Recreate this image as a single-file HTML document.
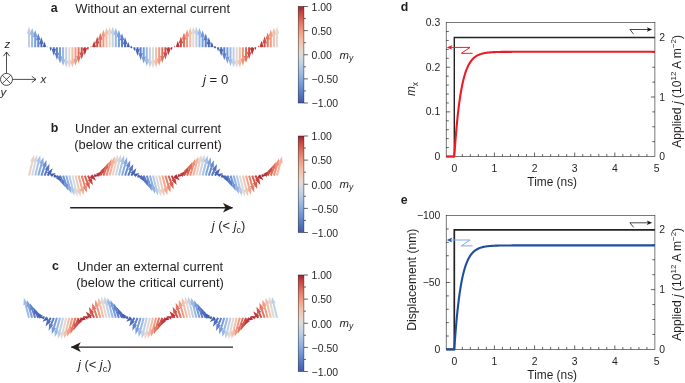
<!DOCTYPE html>
<html lang="en"><head><meta charset="utf-8"><title>Figure</title>
<style>html,body{margin:0;padding:0;background:#fff}svg{display:block;will-change:transform}svg text{font-family:"Liberation Sans",sans-serif}</style>
</head><body>
<svg width="685" height="383" viewBox="0 0 685 383" fill="#231f20">
<defs><linearGradient id="cw" x1="0" y1="0" x2="0" y2="1"><stop offset="0.0000" stop-color="#af1a30"/><stop offset="0.0312" stop-color="#ba3237"/><stop offset="0.0625" stop-color="#c54440"/><stop offset="0.0938" stop-color="#d05349"/><stop offset="0.1250" stop-color="#d96153"/><stop offset="0.1562" stop-color="#e16f5d"/><stop offset="0.1875" stop-color="#e87d68"/><stop offset="0.2188" stop-color="#ed8a73"/><stop offset="0.2500" stop-color="#f1977f"/><stop offset="0.2812" stop-color="#f4a38a"/><stop offset="0.3125" stop-color="#f5ae96"/><stop offset="0.3438" stop-color="#f5b9a2"/><stop offset="0.3750" stop-color="#f3c2ae"/><stop offset="0.4062" stop-color="#f0caba"/><stop offset="0.4375" stop-color="#ebd2c6"/><stop offset="0.4688" stop-color="#e5d8d1"/><stop offset="0.5000" stop-color="#dddcdc"/><stop offset="0.5312" stop-color="#d3d9e0"/><stop offset="0.5625" stop-color="#c9d5e3"/><stop offset="0.5938" stop-color="#bfd0e5"/><stop offset="0.6250" stop-color="#b4cae6"/><stop offset="0.6562" stop-color="#a9c3e6"/><stop offset="0.6875" stop-color="#9dbbe5"/><stop offset="0.7188" stop-color="#92b3e4"/><stop offset="0.7500" stop-color="#87aae1"/><stop offset="0.7812" stop-color="#7da1dd"/><stop offset="0.8125" stop-color="#7297d8"/><stop offset="0.8438" stop-color="#688dd3"/><stop offset="0.8750" stop-color="#5f82cc"/><stop offset="0.9062" stop-color="#5678c5"/><stop offset="0.9375" stop-color="#4e6ebc"/><stop offset="0.9688" stop-color="#4663b4"/><stop offset="1.0000" stop-color="#3f59aa"/></linearGradient><marker id="ah" viewBox="0 0 10 10" refX="9.5" refY="5" markerWidth="10" markerHeight="10" markerUnits="userSpaceOnUse" orient="auto-start-reverse"><path d="M0,0.2 L10,5 L0,9.8 L2.6,5 Z" fill="#231f20"/></marker></defs>
<rect width="685" height="383" fill="#fff"/>
<text x="50.8" y="11.9" font-size="12.4" text-anchor="start" font-weight="bold" font-style="normal" >a</text>
<text x="75.3" y="12.5" font-size="12.9" text-anchor="start" font-weight="normal" font-style="normal" >Without an external current</text>
<polygon points="30.00,47.30 30.00,33.27 31.40,33.97 29.00,26.57 26.60,33.97 28.00,33.27 28.00,47.30" fill="#c1d1e5"/>
<polygon points="33.10,47.30 33.10,34.45 34.50,35.15 32.10,27.75 29.70,35.15 31.10,34.45 31.10,47.30" fill="#9bb9e5"/>
<polygon points="36.20,47.30 36.20,36.68 37.60,37.38 35.20,29.98 32.80,37.38 34.20,36.68 34.20,47.30" fill="#779cdb"/>
<polygon points="39.30,47.30 39.30,39.84 40.70,40.54 38.30,33.14 35.90,40.54 37.30,39.84 37.30,47.30" fill="#5c80ca"/>
<polygon points="42.40,47.30 42.40,43.78 43.80,44.48 41.40,37.08 39.00,44.48 40.40,43.78 40.40,47.30" fill="#4c6bba"/>
<polygon points="45.28,47.30 45.28,46.76 46.36,47.30 44.50,41.56 42.64,47.30 43.72,46.76 43.72,47.30" fill="#415dad"/>
<polygon points="47.73,47.30 47.73,47.21 47.91,47.30 47.60,46.36 47.29,47.30 47.47,47.21 47.47,47.30" fill="#3f59aa"/>
<polygon points="50.17,47.30 50.17,47.67 49.43,47.30 50.70,51.20 51.97,47.30 51.23,47.67 51.23,47.30" fill="#415dae"/>
<polygon points="52.80,47.30 52.80,49.14 51.40,48.44 53.80,55.84 56.20,48.44 54.80,49.14 54.80,47.30" fill="#4b6ab9"/>
<polygon points="55.90,47.30 55.90,53.31 54.50,52.61 56.90,60.01 59.30,52.61 57.90,53.31 57.90,47.30" fill="#5b7ec9"/>
<polygon points="59.00,47.30 59.00,56.80 57.60,56.10 60.00,63.50 62.40,56.10 61.00,56.80 61.00,47.30" fill="#7599da"/>
<polygon points="62.10,47.30 62.10,59.41 60.70,58.71 63.10,66.11 65.50,58.71 64.10,59.41 64.10,47.30" fill="#98b7e5"/>
<polygon points="65.20,47.30 65.20,61.01 63.80,60.31 66.20,67.71 68.60,60.31 67.20,61.01 67.20,47.30" fill="#c0d0e4"/>
<polygon points="68.30,47.30 68.30,61.50 66.90,60.80 69.30,68.20 71.70,60.80 70.30,61.50 70.30,47.30" fill="#e3d9d4"/>
<polygon points="71.40,47.30 71.40,60.86 70.00,60.16 72.40,67.56 74.80,60.16 73.40,60.86 73.40,47.30" fill="#f4bda8"/>
<polygon points="74.50,47.30 74.50,59.13 73.10,58.43 75.50,65.83 77.90,58.43 76.50,59.13 76.50,47.30" fill="#f29880"/>
<polygon points="77.60,47.30 77.60,56.40 76.20,55.70 78.60,63.10 81.00,55.70 79.60,56.40 79.60,47.30" fill="#e2715f"/>
<polygon points="80.70,47.30 80.70,52.81 79.30,52.11 81.70,59.51 84.10,52.11 82.70,52.81 82.70,47.30" fill="#cd4f47"/>
<polygon points="83.80,47.30 83.80,48.56 82.40,47.86 84.80,55.26 87.20,47.86 85.80,48.56 85.80,47.30" fill="#ba3237"/>
<polygon points="87.46,47.30 87.46,47.61 86.83,47.30 87.90,50.58 88.97,47.30 88.34,47.61 88.34,47.30" fill="#af1930"/>
<polygon points="91.21,47.30 91.21,47.15 91.51,47.30 91.00,45.73 90.49,47.30 90.79,47.15 90.79,47.30" fill="#af1930"/>
<polygon points="94.96,47.30 94.96,46.70 96.16,47.30 94.10,40.96 92.04,47.30 93.24,46.70 93.24,47.30" fill="#ba3337"/>
<polygon points="98.20,47.30 98.20,43.23 99.60,43.93 97.20,36.53 94.80,43.93 96.20,43.23 96.20,47.30" fill="#cc4d46"/>
<polygon points="101.30,47.30 101.30,39.39 102.70,40.09 100.30,32.69 97.90,40.09 99.30,39.39 99.30,47.30" fill="#e16f5d"/>
<polygon points="104.40,47.30 104.40,36.33 105.80,37.03 103.40,29.63 101.00,37.03 102.40,36.33 102.40,47.30" fill="#f1977f"/>
<polygon points="107.50,47.30 107.50,34.23 108.90,34.93 106.50,27.53 104.10,34.93 105.50,34.23 105.50,47.30" fill="#f4bda8"/>
<polygon points="110.60,47.30 110.60,33.20 112.00,33.90 109.60,26.50 107.20,33.90 108.60,33.20 108.60,47.30" fill="#e4d8d3"/>
<polygon points="113.70,47.30 113.70,33.29 115.10,33.99 112.70,26.59 110.30,33.99 111.70,33.29 111.70,47.30" fill="#c0d1e5"/>
<polygon points="116.80,47.30 116.80,34.50 118.20,35.20 115.80,27.80 113.40,35.20 114.80,34.50 114.80,47.30" fill="#99b8e5"/>
<polygon points="119.90,47.30 119.90,36.77 121.30,37.47 118.90,30.07 116.50,37.47 117.90,36.77 117.90,47.30" fill="#769ada"/>
<polygon points="123.00,47.30 123.00,39.96 124.40,40.66 122.00,33.26 119.60,40.66 121.00,39.96 121.00,47.30" fill="#5d80ca"/>
<polygon points="126.10,47.30 126.10,43.91 127.50,44.61 125.10,37.21 122.70,44.61 124.10,43.91 124.10,47.30" fill="#4a69b9"/>
<polygon points="128.95,47.30 128.95,46.77 130.01,47.30 128.20,41.71 126.39,47.30 127.45,46.77 127.45,47.30" fill="#415dad"/>
<polygon points="132.40,47.30 131.85,48.25 130.75,48.25 130.20,47.30 130.75,46.35 131.85,46.35" fill="#3f59aa"/>
<polygon points="133.85,47.30 133.85,47.68 133.08,47.30 134.40,51.36 135.72,47.30 134.95,47.68 134.95,47.30" fill="#415dad"/>
<polygon points="136.50,47.30 136.50,49.28 135.10,48.58 137.50,55.98 139.90,48.58 138.50,49.28 138.50,47.30" fill="#4a69b9"/>
<polygon points="139.60,47.30 139.60,53.44 138.20,52.74 140.60,60.14 143.00,52.74 141.60,53.44 141.60,47.30" fill="#5d80ca"/>
<polygon points="142.70,47.30 142.70,56.90 141.30,56.20 143.70,63.60 146.10,56.20 144.70,56.90 144.70,47.30" fill="#769ada"/>
<polygon points="145.80,47.30 145.80,59.48 144.40,58.78 146.80,66.18 149.20,58.78 147.80,59.48 147.80,47.30" fill="#99b8e5"/>
<polygon points="148.90,47.30 148.90,61.04 147.50,60.34 149.90,67.74 152.30,60.34 150.90,61.04 150.90,47.30" fill="#c0d1e5"/>
<polygon points="152.00,47.30 152.00,61.49 150.60,60.79 153.00,68.19 155.40,60.79 154.00,61.49 154.00,47.30" fill="#e4d8d3"/>
<polygon points="155.10,47.30 155.10,60.82 153.70,60.12 156.10,67.52 158.50,60.12 157.10,60.82 157.10,47.30" fill="#f4bda8"/>
<polygon points="158.20,47.30 158.20,59.06 156.80,58.36 159.20,65.76 161.60,58.36 160.20,59.06 160.20,47.30" fill="#f1977f"/>
<polygon points="161.30,47.30 161.30,56.29 159.90,55.59 162.30,62.99 164.70,55.59 163.30,56.29 163.30,47.30" fill="#e16f5d"/>
<polygon points="164.40,47.30 164.40,52.68 163.00,51.98 165.40,59.38 167.80,51.98 166.40,52.68 166.40,47.30" fill="#cc4d46"/>
<polygon points="167.50,47.30 167.50,48.42 166.10,47.72 168.50,55.12 170.90,47.72 169.50,48.42 169.50,47.30" fill="#ba3337"/>
<polygon points="171.18,47.30 171.18,47.60 170.58,47.30 171.60,50.43 172.62,47.30 172.02,47.60 172.02,47.30" fill="#af1930"/>
<polygon points="174.93,47.30 174.93,47.14 175.26,47.30 174.70,45.57 174.14,47.30 174.47,47.14 174.47,47.30" fill="#af1930"/>
<polygon points="178.68,47.30 178.68,46.69 179.90,47.30 177.80,40.81 175.70,47.30 176.92,46.69 176.92,47.30" fill="#ba3237"/>
<polygon points="181.90,47.30 181.90,43.10 183.30,43.80 180.90,36.40 178.50,43.80 179.90,43.10 179.90,47.30" fill="#cd4f47"/>
<polygon points="185.00,47.30 185.00,39.28 186.40,39.98 184.00,32.58 181.60,39.98 183.00,39.28 183.00,47.30" fill="#e2715f"/>
<polygon points="188.10,47.30 188.10,36.25 189.50,36.95 187.10,29.55 184.70,36.95 186.10,36.25 186.10,47.30" fill="#f29880"/>
<polygon points="191.20,47.30 191.20,34.18 192.60,34.88 190.20,27.48 187.80,34.88 189.20,34.18 189.20,47.30" fill="#f4bda8"/>
<polygon points="194.30,47.30 194.30,33.18 195.70,33.88 193.30,26.48 190.90,33.88 192.30,33.18 192.30,47.30" fill="#e3d9d4"/>
<polygon points="197.40,47.30 197.40,33.31 198.80,34.01 196.40,26.61 194.00,34.01 195.40,33.31 195.40,47.30" fill="#c0d0e4"/>
<polygon points="200.50,47.30 200.50,34.56 201.90,35.26 199.50,27.86 197.10,35.26 198.50,34.56 198.50,47.30" fill="#98b7e5"/>
<polygon points="203.60,47.30 203.60,36.85 205.00,37.55 202.60,30.15 200.20,37.55 201.60,36.85 201.60,47.30" fill="#7599da"/>
<polygon points="206.70,47.30 206.70,40.08 208.10,40.78 205.70,33.38 203.30,40.78 204.70,40.08 204.70,47.30" fill="#5b7ec9"/>
<polygon points="209.80,47.30 209.80,44.05 211.20,44.75 208.80,37.35 206.40,44.75 207.80,44.05 207.80,47.30" fill="#4b6ab9"/>
<polygon points="212.63,47.30 212.63,46.79 213.66,47.30 211.90,41.87 210.14,47.30 211.17,46.79 211.17,47.30" fill="#415dae"/>
<polygon points="216.10,47.30 215.55,48.25 214.45,48.25 213.90,47.30 214.45,46.35 215.55,46.35" fill="#3f59aa"/>
<polygon points="217.53,47.30 217.53,47.70 216.73,47.30 218.10,51.51 219.47,47.30 218.67,47.70 218.67,47.30" fill="#415dad"/>
<polygon points="220.20,47.30 220.20,49.42 218.80,48.72 221.20,56.12 223.60,48.72 222.20,49.42 222.20,47.30" fill="#4c6bba"/>
<polygon points="223.30,47.30 223.30,53.56 221.90,52.86 224.30,60.26 226.70,52.86 225.30,53.56 225.30,47.30" fill="#5c80ca"/>
<polygon points="226.40,47.30 226.40,57.00 225.00,56.30 227.40,63.70 229.80,56.30 228.40,57.00 228.40,47.30" fill="#779cdb"/>
<polygon points="229.50,47.30 229.50,59.55 228.10,58.85 230.50,66.25 232.90,58.85 231.50,59.55 231.50,47.30" fill="#9bb9e5"/>
<polygon points="232.60,47.30 232.60,61.07 231.20,60.37 233.60,67.77 236.00,60.37 234.60,61.07 234.60,47.30" fill="#c1d1e5"/>
<polygon points="235.70,47.30 235.70,61.49 234.30,60.79 236.70,68.19 239.10,60.79 237.70,61.49 237.70,47.30" fill="#e5d8d1"/>
<polygon points="238.80,47.30 238.80,60.78 237.40,60.08 239.80,67.48 242.20,60.08 240.80,60.78 240.80,47.30" fill="#f5bca7"/>
<polygon points="241.90,47.30 241.90,58.98 240.50,58.28 242.90,65.68 245.30,58.28 243.90,58.98 243.90,47.30" fill="#f1957d"/>
<polygon points="245.00,47.30 245.00,56.19 243.60,55.49 246.00,62.89 248.40,55.49 247.00,56.19 247.00,47.30" fill="#e16f5d"/>
<polygon points="248.10,47.30 248.10,52.55 246.70,51.85 249.10,59.25 251.50,51.85 250.10,52.55 250.10,47.30" fill="#cc4e46"/>
<polygon points="251.20,47.30 251.20,48.27 249.80,47.57 252.20,54.97 254.60,47.57 253.20,48.27 253.20,47.30" fill="#ba3337"/>
<polygon points="254.90,47.30 254.90,47.58 254.34,47.30 255.30,50.27 256.26,47.30 255.70,47.58 255.70,47.30" fill="#af1930"/>
<polygon points="258.65,47.30 258.65,47.12 259.01,47.30 258.40,45.42 257.79,47.30 258.15,47.12 258.15,47.30" fill="#b01d31"/>
<polygon points="262.40,47.30 262.40,46.67 263.65,47.30 261.50,40.66 259.35,47.30 260.60,46.67 260.60,47.30" fill="#bb3638"/>
<polygon points="265.60,47.30 265.60,42.97 267.00,43.67 264.60,36.27 262.20,43.67 263.60,42.97 263.60,47.30" fill="#cd4f47"/>
<polygon points="268.70,47.30 268.70,39.17 270.10,39.87 267.70,32.47 265.30,39.87 266.70,39.17 266.70,47.30" fill="#e37360"/>
<polygon points="271.80,47.30 271.80,36.17 273.20,36.87 270.80,29.47 268.40,36.87 269.80,36.17 269.80,47.30" fill="#f29a82"/>
<polygon points="274.90,47.30 274.90,34.13 276.30,34.83 273.90,27.43 271.50,34.83 272.90,34.13 272.90,47.30" fill="#f4bfaa"/>
<polygon points="278.00,47.30 278.00,33.17 279.40,33.87 277.00,26.47 274.60,33.87 276.00,33.17 276.00,47.30" fill="#e2d9d5"/>
<text x="203" y="84.2" font-size="13.2"><tspan font-style="italic">j</tspan> = 0</text>
<rect x="298.2" y="6.5" width="5.699999999999989" height="96.5" fill="url(#cw)" stroke="#231f20" stroke-width="0.5"/>
<line x1="303.9" y1="6.50" x2="307.9" y2="6.50" stroke="#231f20" stroke-width="0.7"/>
<line x1="303.9" y1="18.56" x2="305.9" y2="18.56" stroke="#231f20" stroke-width="0.7"/>
<line x1="303.9" y1="30.62" x2="307.9" y2="30.62" stroke="#231f20" stroke-width="0.7"/>
<line x1="303.9" y1="42.69" x2="305.9" y2="42.69" stroke="#231f20" stroke-width="0.7"/>
<line x1="303.9" y1="54.75" x2="307.9" y2="54.75" stroke="#231f20" stroke-width="0.7"/>
<line x1="303.9" y1="66.81" x2="305.9" y2="66.81" stroke="#231f20" stroke-width="0.7"/>
<line x1="303.9" y1="78.88" x2="307.9" y2="78.88" stroke="#231f20" stroke-width="0.7"/>
<line x1="303.9" y1="90.94" x2="305.9" y2="90.94" stroke="#231f20" stroke-width="0.7"/>
<line x1="303.9" y1="103.00" x2="307.9" y2="103.00" stroke="#231f20" stroke-width="0.7"/>
<text x="311.6" y="10.80" font-size="10.45" text-anchor="start" font-weight="normal" font-style="normal" >1.00</text>
<text x="311.6" y="34.92" font-size="10.45" text-anchor="start" font-weight="normal" font-style="normal" >0.50</text>
<text x="311.6" y="59.05" font-size="10.45" text-anchor="start" font-weight="normal" font-style="normal" >0.00</text>
<text x="311.6" y="83.17" font-size="10.45" text-anchor="start" font-weight="normal" font-style="normal" >−0.50</text>
<text x="311.6" y="107.30" font-size="10.45" text-anchor="start" font-weight="normal" font-style="normal" >−1.00</text>
<text x="339.6" y="58.65" font-size="11.4" font-style="italic">m<tspan font-size="8.4" dy="2.0">y</tspan></text>
<g stroke="#231f20" stroke-width="0.8" fill="none"><circle cx="6.5" cy="79.4" r="6"/><path d="M2.3,75.2 L10.7,83.6 M10.7,75.2 L2.3,83.6"/><path d="M6.5,73.4 L6.5,52 M3.4,56.2 L6.5,52 L9.6,56.2"/><path d="M12.5,79.4 L36,79.4 M31.8,76.3 L36,79.4 L31.8,82.5"/></g>
<text x="4.5" y="47.5" font-size="11.5" text-anchor="start" font-weight="normal" font-style="italic" >z</text>
<text x="40.5" y="82.5" font-size="11.5" text-anchor="start" font-weight="normal" font-style="italic" >x</text>
<text x="0.5" y="96" font-size="11.5" text-anchor="start" font-weight="normal" font-style="italic" >y</text>
<text x="50.8" y="131.9" font-size="12.4" text-anchor="start" font-weight="bold" font-style="normal" >b</text>
<text x="75" y="132.5" font-size="12.9" text-anchor="start" font-weight="normal" font-style="normal" >Under an external current</text>
<text x="74.2" y="149.2" font-size="12.9" text-anchor="start" font-weight="normal" font-style="normal" >(below the critical current)</text>
<polygon points="29.97,175.84 33.45,161.62 34.65,162.63 34.08,154.87 29.99,161.49 31.51,161.14 28.03,175.36" fill="#edd0c3"/>
<polygon points="33.07,175.83 36.58,161.27 37.78,162.28 37.18,154.52 33.11,161.16 34.64,160.80 31.13,175.37" fill="#d0d8e1"/>
<polygon points="36.17,175.84 39.62,162.06 40.81,163.07 40.28,155.31 36.15,161.91 37.68,161.57 34.23,175.36" fill="#aac4e6"/>
<polygon points="39.26,175.87 42.56,163.92 43.72,164.97 43.38,157.20 39.10,163.69 40.63,163.39 37.34,175.33" fill="#86a9e0"/>
<polygon points="42.35,175.91 45.35,166.76 46.46,167.86 46.48,160.08 41.90,166.37 43.44,166.14 40.45,175.29" fill="#688dd3"/>
<polygon points="45.42,176.00 47.85,170.35 48.86,171.54 49.58,163.80 44.45,169.65 46.01,169.56 43.58,175.20" fill="#5475c2"/>
<polygon points="48.43,176.16 49.73,174.25 50.49,175.62 52.68,168.15 46.53,172.91 48.08,173.13 46.77,175.04" fill="#4764b4"/>
<polygon points="51.06,176.29 51.54,176.03 51.57,177.25 55.78,172.91 49.83,173.95 50.82,174.66 50.34,174.91" fill="#425eaf"/>
<polygon points="53.50,176.29 53.98,176.50 53.08,177.25 58.88,177.82 54.52,173.95 54.58,175.12 54.10,174.91" fill="#425eaf"/>
<polygon points="56.09,176.19 57.23,177.76 55.69,178.02 61.98,182.60 59.58,175.20 58.85,176.59 57.71,175.01" fill="#4a68b8"/>
<polygon points="59.09,176.01 61.44,181.29 59.88,181.22 65.08,187.01 64.26,179.27 63.27,180.48 60.91,175.19" fill="#5779c5"/>
<polygon points="62.15,175.92 65.11,184.76 63.56,184.54 68.18,190.80 68.11,183.02 67.00,184.12 64.05,175.28" fill="#6e93d6"/>
<polygon points="65.24,175.87 68.51,187.58 66.97,187.28 71.28,193.76 71.60,185.99 70.44,187.04 67.16,175.33" fill="#8daee2"/>
<polygon points="68.33,175.84 71.77,189.50 70.24,189.16 74.38,195.75 74.90,187.99 73.71,189.01 70.27,175.36" fill="#b2c9e6"/>
<polygon points="71.43,175.83 74.93,190.37 73.41,190.02 77.48,196.65 78.08,188.89 76.88,189.90 73.37,175.37" fill="#d8dbde"/>
<polygon points="74.53,175.84 78.02,190.14 76.49,189.79 80.58,196.41 81.16,188.65 79.96,189.66 76.47,175.36" fill="#f1c9b9"/>
<polygon points="77.63,175.85 81.02,188.82 79.49,188.49 83.68,195.05 84.13,187.28 82.95,188.31 79.57,175.35" fill="#f5a990"/>
<polygon points="80.74,175.89 83.91,186.50 82.36,186.23 86.78,192.63 86.96,184.85 85.82,185.92 82.66,175.31" fill="#ea826c"/>
<polygon points="83.86,175.95 86.61,183.36 85.05,183.19 89.88,189.30 89.56,181.52 88.49,182.67 85.74,175.25" fill="#d85f52"/>
<polygon points="87.02,176.07 88.97,179.76 87.40,179.80 92.98,185.22 91.65,177.56 90.73,178.83 88.78,175.13" fill="#c54440"/>
<polygon points="90.32,176.29 90.80,176.76 89.37,177.25 96.08,180.63 92.63,173.95 92.16,175.39 91.68,174.91" fill="#b82f36"/>
<polygon points="94.08,176.29 94.56,176.30 94.05,177.25 99.18,175.76 94.15,173.95 94.60,174.93 94.12,174.91" fill="#b42433"/>
<polygon points="97.84,176.29 98.32,175.84 98.73,177.25 102.28,170.88 95.67,173.95 97.04,174.47 96.56,174.91" fill="#ba3237"/>
<polygon points="101.18,176.08 103.06,172.63 103.95,173.91 105.38,166.26 99.73,171.62 101.30,171.67 99.42,175.12" fill="#c94a43"/>
<polygon points="104.34,175.95 107.05,168.77 108.11,169.92 108.48,162.15 103.62,168.22 105.18,168.06 102.46,175.25" fill="#dd6858"/>
<polygon points="107.46,175.89 110.60,165.46 111.74,166.54 111.58,158.76 107.14,165.15 108.69,164.88 105.54,175.31" fill="#ee8c75"/>
<polygon points="110.57,175.85 113.94,163.01 115.12,164.05 114.68,156.28 110.48,162.83 112.01,162.51 108.63,175.35" fill="#f5b29b"/>
<polygon points="113.67,175.84 117.16,161.59 118.35,162.60 117.78,154.84 113.69,161.46 115.21,161.12 111.73,175.36" fill="#ecd1c4"/>
<polygon points="116.77,175.83 120.28,161.28 121.48,162.29 120.88,154.53 116.81,161.16 118.34,160.81 114.83,175.37" fill="#ced7e2"/>
<polygon points="119.87,175.84 123.32,162.10 124.51,163.12 123.98,155.36 119.85,161.95 121.38,161.61 117.93,175.36" fill="#a9c3e6"/>
<polygon points="122.96,175.87 126.25,164.00 127.41,165.05 127.08,157.28 122.79,163.77 124.32,163.47 121.04,175.33" fill="#85a8e0"/>
<polygon points="126.05,175.91 129.03,166.86 130.14,167.97 130.18,160.19 125.58,166.46 127.13,166.24 124.15,175.29" fill="#678bd2"/>
<polygon points="129.12,176.00 131.52,170.47 132.53,171.67 133.28,163.93 128.12,169.76 129.69,169.67 127.28,175.20" fill="#5374c1"/>
<polygon points="132.12,176.17 133.37,174.37 134.12,175.75 136.38,168.30 130.18,173.01 131.73,173.23 130.48,175.03" fill="#4764b4"/>
<polygon points="134.74,176.29 135.22,176.05 135.22,177.25 139.48,173.07 133.58,173.95 134.54,174.67 134.06,174.91" fill="#415cad"/>
<polygon points="137.18,176.29 137.66,176.51 136.73,177.25 142.58,177.97 138.27,173.95 138.30,175.14 137.82,174.91" fill="#425eae"/>
<polygon points="139.78,176.18 140.98,177.87 139.44,178.11 145.68,182.75 143.35,175.33 142.61,176.71 141.42,175.02" fill="#4a68b8"/>
<polygon points="142.78,176.00 145.16,181.41 143.60,181.33 148.78,187.14 147.99,179.40 146.99,180.60 144.62,175.20" fill="#587ac6"/>
<polygon points="145.85,175.91 148.82,184.86 147.27,184.64 151.88,190.91 151.83,183.13 150.72,184.23 147.75,175.29" fill="#6e93d6"/>
<polygon points="148.94,175.87 152.22,187.66 150.68,187.36 154.98,193.84 155.31,186.07 154.14,187.12 150.86,175.33" fill="#8eafe3"/>
<polygon points="152.03,175.84 155.47,189.54 153.95,189.21 158.08,195.80 158.60,188.04 157.41,189.06 153.97,175.36" fill="#b4cae6"/>
<polygon points="155.13,175.83 158.64,190.38 157.11,190.03 161.18,196.66 161.78,188.90 160.58,189.91 157.07,175.37" fill="#dadbde"/>
<polygon points="158.23,175.84 161.72,190.11 160.19,189.76 164.28,196.38 164.85,188.62 163.66,189.64 160.17,175.36" fill="#f1c9b9"/>
<polygon points="161.33,175.85 164.71,188.76 163.18,188.43 167.38,194.98 167.82,187.22 166.65,188.25 163.27,175.35" fill="#f5a78f"/>
<polygon points="164.44,175.89 167.60,186.41 166.05,186.14 170.48,192.54 170.65,184.76 169.51,185.83 166.36,175.31" fill="#ea826c"/>
<polygon points="167.56,175.95 170.29,183.25 168.74,183.08 173.58,189.17 173.23,181.40 172.17,182.55 169.44,175.25" fill="#d75e50"/>
<polygon points="170.72,176.07 172.63,179.65 171.07,179.69 176.68,185.08 175.30,177.42 174.40,178.70 172.48,175.13" fill="#c4423f"/>
<polygon points="174.04,176.29 174.52,176.75 173.12,177.25 179.78,180.47 176.28,173.95 175.84,175.37 175.36,174.91" fill="#b72b35"/>
<polygon points="177.80,176.29 178.28,176.29 177.80,177.25 182.88,175.60 177.80,173.95 178.28,174.91 177.80,174.91" fill="#b42433"/>
<polygon points="181.56,176.29 182.04,175.83 182.48,177.25 185.98,170.73 179.32,173.95 180.72,174.45 180.24,174.91" fill="#bb3738"/>
<polygon points="184.88,176.07 186.80,172.50 187.70,173.78 189.08,166.12 183.47,171.51 185.03,171.55 183.12,175.13" fill="#ca4c45"/>
<polygon points="188.04,175.95 190.77,168.65 191.83,169.80 192.18,162.03 187.34,168.12 188.89,167.95 186.16,175.25" fill="#dd6858"/>
<polygon points="191.16,175.89 194.31,165.37 195.45,166.44 195.28,158.66 190.85,165.06 192.40,164.79 189.24,175.31" fill="#ee8d76"/>
<polygon points="194.27,175.85 197.65,162.95 198.82,163.98 198.38,156.22 194.18,162.77 195.71,162.44 192.33,175.35" fill="#f5b39c"/>
<polygon points="197.37,175.84 200.86,161.56 202.05,162.58 201.48,154.82 197.39,161.44 198.92,161.09 195.43,175.36" fill="#ebd2c6"/>
<polygon points="200.47,175.83 203.98,161.29 205.18,162.30 204.58,154.54 200.51,161.17 202.04,160.82 198.53,175.37" fill="#cdd7e2"/>
<polygon points="203.57,175.84 207.01,162.14 208.20,163.16 207.68,155.40 203.55,161.99 205.07,161.66 201.63,175.36" fill="#a7c2e6"/>
<polygon points="206.66,175.87 209.94,164.08 211.11,165.13 210.78,157.36 206.48,163.84 208.02,163.54 204.74,175.33" fill="#83a6df"/>
<polygon points="209.75,175.91 212.72,166.97 213.83,168.07 213.88,160.29 209.27,166.56 210.82,166.34 207.85,175.29" fill="#678bd2"/>
<polygon points="212.82,176.00 215.19,170.60 216.19,171.80 216.98,164.06 211.80,169.87 213.36,169.79 210.98,175.20" fill="#5374c1"/>
<polygon points="215.82,176.18 217.01,174.49 217.75,175.87 220.08,168.45 213.84,173.09 215.38,173.33 214.18,175.02" fill="#4764b5"/>
<polygon points="218.42,176.29 218.90,176.06 218.87,177.25 223.18,173.23 217.33,173.95 218.26,174.69 217.78,174.91" fill="#415dad"/>
<polygon points="220.86,176.29 221.34,176.53 220.38,177.25 226.28,178.13 222.02,173.95 222.02,175.15 221.54,174.91" fill="#435fb0"/>
<polygon points="223.48,176.17 224.73,177.97 223.18,178.19 229.38,182.90 227.12,175.45 226.37,176.83 225.12,175.03" fill="#4968b8"/>
<polygon points="226.48,176.00 228.89,181.53 227.32,181.44 232.48,187.27 231.73,179.53 230.72,180.73 228.32,175.20" fill="#587ac6"/>
<polygon points="229.55,175.91 232.53,184.96 230.98,184.74 235.58,191.01 235.54,183.23 234.43,184.34 231.45,175.29" fill="#7094d7"/>
<polygon points="232.64,175.87 235.92,187.73 234.39,187.43 238.68,193.92 239.01,186.15 237.85,187.20 234.56,175.33" fill="#90b1e3"/>
<polygon points="235.73,175.84 239.18,189.59 237.65,189.25 241.78,195.84 242.31,188.08 241.12,189.10 237.67,175.36" fill="#b5cae6"/>
<polygon points="238.83,175.83 242.34,190.39 240.81,190.04 244.88,196.67 245.48,188.91 244.28,189.92 240.77,175.37" fill="#dbdcdd"/>
<polygon points="241.93,175.84 245.41,190.08 243.89,189.74 247.98,196.36 248.55,188.60 247.36,189.61 243.87,175.36" fill="#f1c8b7"/>
<polygon points="245.03,175.85 248.41,188.69 246.88,188.37 251.08,194.92 251.52,187.15 250.34,188.19 246.97,175.35" fill="#f5a68d"/>
<polygon points="248.14,175.89 251.29,186.32 249.74,186.05 254.18,192.44 254.34,184.66 253.20,185.74 250.06,175.31" fill="#e9806b"/>
<polygon points="251.26,175.95 253.98,183.14 252.42,182.98 257.28,189.05 256.91,181.28 255.85,182.43 253.14,175.25" fill="#d75e51"/>
<polygon points="254.42,176.08 256.30,179.53 254.73,179.58 260.38,184.94 258.95,177.29 258.06,178.57 256.18,175.12" fill="#c4423f"/>
<polygon points="257.76,176.29 258.24,176.73 256.87,177.25 263.48,180.32 259.93,173.95 259.52,175.36 259.04,174.91" fill="#b72b35"/>
<polygon points="261.52,176.29 262.00,176.27 261.55,177.25 266.58,175.44 261.45,173.95 261.96,174.90 261.48,174.91" fill="#b42433"/>
<polygon points="265.28,176.29 265.76,175.81 266.23,177.25 269.68,170.57 262.97,173.95 264.40,174.44 263.92,174.91" fill="#bb3638"/>
<polygon points="268.58,176.07 270.53,172.37 271.45,173.64 272.78,165.98 267.20,171.40 268.77,171.44 266.82,175.13" fill="#ca4c45"/>
<polygon points="271.74,175.95 274.49,168.53 275.56,169.68 275.88,161.90 271.05,168.01 272.61,167.84 269.86,175.25" fill="#de6a59"/>
<polygon points="274.86,175.89 278.02,165.28 279.16,166.35 278.98,158.57 274.56,164.97 276.11,164.70 272.94,175.31" fill="#ef8f78"/>
<polygon points="277.97,175.85 281.35,162.89 282.53,163.92 282.08,156.15 277.89,162.71 279.42,162.38 276.03,175.35" fill="#f5b59e"/>
<rect x="298.2" y="136.0" width="5.699999999999989" height="96.5" fill="url(#cw)" stroke="#231f20" stroke-width="0.5"/>
<line x1="303.9" y1="136.00" x2="307.9" y2="136.00" stroke="#231f20" stroke-width="0.7"/>
<line x1="303.9" y1="148.06" x2="305.9" y2="148.06" stroke="#231f20" stroke-width="0.7"/>
<line x1="303.9" y1="160.12" x2="307.9" y2="160.12" stroke="#231f20" stroke-width="0.7"/>
<line x1="303.9" y1="172.19" x2="305.9" y2="172.19" stroke="#231f20" stroke-width="0.7"/>
<line x1="303.9" y1="184.25" x2="307.9" y2="184.25" stroke="#231f20" stroke-width="0.7"/>
<line x1="303.9" y1="196.31" x2="305.9" y2="196.31" stroke="#231f20" stroke-width="0.7"/>
<line x1="303.9" y1="208.38" x2="307.9" y2="208.38" stroke="#231f20" stroke-width="0.7"/>
<line x1="303.9" y1="220.44" x2="305.9" y2="220.44" stroke="#231f20" stroke-width="0.7"/>
<line x1="303.9" y1="232.50" x2="307.9" y2="232.50" stroke="#231f20" stroke-width="0.7"/>
<text x="311.6" y="140.30" font-size="10.45" text-anchor="start" font-weight="normal" font-style="normal" >1.00</text>
<text x="311.6" y="164.43" font-size="10.45" text-anchor="start" font-weight="normal" font-style="normal" >0.50</text>
<text x="311.6" y="188.55" font-size="10.45" text-anchor="start" font-weight="normal" font-style="normal" >0.00</text>
<text x="311.6" y="212.68" font-size="10.45" text-anchor="start" font-weight="normal" font-style="normal" >−0.50</text>
<text x="311.6" y="236.80" font-size="10.45" text-anchor="start" font-weight="normal" font-style="normal" >−1.00</text>
<text x="339.6" y="188.15" font-size="11.4" font-style="italic">m<tspan font-size="8.4" dy="2.0">y</tspan></text>
<line x1="70.2" y1="207.8" x2="232.5" y2="207.8" stroke="#231f20" stroke-width="1.45" marker-end="url(#ah)"/>
<text x="211.8" y="230" font-size="12.9"><tspan font-style="italic">j</tspan> (&lt; <tspan font-style="italic">j</tspan><tspan font-size="9" dy="3.3">c</tspan><tspan dy="-3.3">)</tspan></text>
<text x="52.0" y="270.4" font-size="12.4" text-anchor="start" font-weight="bold" font-style="normal" >c</text>
<text x="77" y="271" font-size="12.9" text-anchor="start" font-weight="normal" font-style="normal" >Under an external current</text>
<text x="76.3" y="287.2" font-size="12.9" text-anchor="start" font-weight="normal" font-style="normal" >(below the critical current)</text>
<polygon points="29.97,317.55 26.49,303.97 28.02,304.30 23.85,297.73 23.37,305.50 24.55,304.47 28.03,318.05" fill="#9dbbe6"/>
<polygon points="33.06,317.52 29.77,306.14 31.31,306.43 26.95,299.98 26.70,307.76 27.85,306.70 31.14,318.08" fill="#7b9fdd"/>
<polygon points="36.14,317.47 33.22,309.18 34.78,309.38 30.05,303.20 30.25,310.97 31.34,309.85 34.26,318.13" fill="#6083cd"/>
<polygon points="39.20,317.36 36.98,312.79 38.54,312.81 33.15,307.20 34.23,314.90 35.18,313.66 37.40,318.24" fill="#4e6fbd"/>
<polygon points="42.16,317.15 41.36,316.22 42.88,315.84 36.25,311.77 39.23,318.96 39.84,317.52 40.64,318.45" fill="#4562b2"/>
<polygon points="44.65,317.10 44.17,317.00 44.86,316.13 39.35,316.68 44.14,319.47 43.86,318.39 44.35,318.50" fill="#415dad"/>
<polygon points="47.08,317.10 46.59,317.47 46.36,316.13 42.45,321.64 48.84,319.47 47.63,318.86 48.12,318.50" fill="#4461b1"/>
<polygon points="49.84,317.29 48.14,320.13 47.30,318.81 45.55,326.39 51.41,321.28 49.85,321.16 51.56,318.31" fill="#4c6cbb"/>
<polygon points="52.87,317.43 50.21,324.09 49.17,322.92 48.65,330.68 53.63,324.70 52.07,324.83 54.73,318.17" fill="#5e81cb"/>
<polygon points="55.95,317.50 52.80,327.58 51.67,326.50 51.75,334.28 56.25,327.93 54.70,328.18 57.85,318.10" fill="#779cdb"/>
<polygon points="59.03,317.54 55.62,330.25 54.45,329.21 54.85,336.98 59.09,330.46 57.55,330.77 60.97,318.06" fill="#99b8e5"/>
<polygon points="62.13,317.56 58.59,331.90 57.40,330.89 57.95,338.65 62.06,332.04 60.53,332.38 64.07,318.04" fill="#bfd0e5"/>
<polygon points="65.23,317.57 61.65,332.44 60.45,331.43 61.05,339.19 65.12,332.56 63.59,332.91 67.17,318.03" fill="#e2d9d5"/>
<polygon points="68.33,317.56 64.79,331.83 63.60,330.81 64.15,338.57 68.26,331.97 66.73,332.31 70.27,318.04" fill="#f4c0ab"/>
<polygon points="71.43,317.54 68.04,330.11 66.87,329.07 67.25,336.84 71.50,330.32 69.97,330.63 73.37,318.06" fill="#f39d85"/>
<polygon points="74.55,317.50 71.42,327.38 70.30,326.29 70.35,334.07 74.87,327.74 73.33,327.98 76.45,318.10" fill="#e47663"/>
<polygon points="77.67,317.42 75.06,323.84 74.02,322.67 73.45,330.42 78.47,324.48 76.91,324.60 79.53,318.18" fill="#d1554a"/>
<polygon points="80.85,317.27 79.23,319.88 78.41,318.54 76.55,326.10 82.49,321.07 80.93,320.93 82.55,318.33" fill="#c03c3c"/>
<polygon points="84.32,317.10 83.84,317.44 83.66,316.13 79.65,321.32 85.94,319.47 84.79,318.83 85.28,318.50" fill="#b52834"/>
<polygon points="88.10,317.10 87.61,316.97 88.37,316.13 82.75,316.35 87.43,319.47 87.22,318.36 87.70,318.50" fill="#b52834"/>
<polygon points="91.78,317.17 90.85,316.03 92.38,315.69 85.85,311.47 88.66,318.72 89.30,317.30 90.22,318.43" fill="#be3a3a"/>
<polygon points="95.00,317.37 92.72,312.55 94.29,312.58 88.95,306.92 89.95,314.64 90.91,313.40 93.20,318.23" fill="#d05349"/>
<polygon points="98.14,317.47 95.19,308.96 96.75,309.17 92.05,302.96 92.21,310.74 93.30,309.62 96.26,318.13" fill="#e37360"/>
<polygon points="101.26,317.52 97.96,305.97 99.49,306.26 95.15,299.81 94.88,307.58 96.03,306.52 99.34,318.08" fill="#f29880"/>
<polygon points="104.37,317.55 100.88,303.87 102.41,304.20 98.25,297.62 97.76,305.39 98.94,304.36 102.43,318.05" fill="#f4bda8"/>
<polygon points="107.47,317.56 103.90,302.81 105.43,303.16 101.35,296.53 100.76,304.29 101.96,303.28 105.53,318.04" fill="#e5d8d1"/>
<polygon points="110.57,317.56 107.00,302.86 108.53,303.21 104.45,296.59 103.86,304.34 105.06,303.33 108.63,318.04" fill="#c3d2e4"/>
<polygon points="113.67,317.55 110.19,304.03 111.72,304.36 107.55,297.79 107.07,305.55 108.25,304.53 111.73,318.05" fill="#9cbae5"/>
<polygon points="116.76,317.52 113.48,306.23 115.02,306.51 110.65,300.07 110.41,307.85 111.56,306.78 114.84,318.08" fill="#7a9edc"/>
<polygon points="119.84,317.47 116.94,309.29 118.49,309.48 113.75,303.31 113.97,311.09 115.05,309.96 117.96,318.13" fill="#6084cd"/>
<polygon points="122.90,317.36 120.71,312.91 122.27,312.92 116.85,307.34 117.97,315.04 118.91,313.79 121.10,318.24" fill="#4f6fbd"/>
<polygon points="125.85,317.14 125.12,316.31 126.64,315.91 119.95,311.93 123.03,319.07 123.62,317.63 124.35,318.46" fill="#4562b2"/>
<polygon points="128.33,317.10 127.84,317.01 128.51,316.13 123.05,316.84 127.89,319.47 127.58,318.40 128.07,318.50" fill="#415dad"/>
<polygon points="130.76,317.10 130.27,317.48 130.00,316.13 126.15,321.80 132.60,319.47 131.35,318.87 131.84,318.50" fill="#4460b1"/>
<polygon points="133.54,317.29 131.79,320.26 130.94,318.94 129.25,326.54 135.08,321.38 133.51,321.27 135.26,318.31" fill="#4d6ebc"/>
<polygon points="136.57,317.43 133.89,324.21 132.84,323.05 132.35,330.81 137.31,324.81 135.75,324.95 138.43,318.17" fill="#5f82cc"/>
<polygon points="139.64,317.50 136.48,327.68 135.35,326.60 135.45,334.38 139.94,328.02 138.39,328.28 141.56,318.10" fill="#799ddb"/>
<polygon points="142.73,317.54 139.32,330.32 138.15,329.28 138.55,337.05 142.78,330.52 141.25,330.84 144.67,318.06" fill="#9bb9e5"/>
<polygon points="145.83,317.56 142.28,331.94 141.09,330.92 141.65,338.68 145.75,332.07 144.23,332.42 147.77,318.04" fill="#c0d1e5"/>
<polygon points="148.93,317.57 145.35,332.44 144.15,331.43 144.75,339.19 148.82,332.55 147.29,332.91 150.87,318.03" fill="#e3d9d4"/>
<polygon points="152.03,317.56 148.50,331.79 147.31,330.77 147.85,338.53 151.96,331.93 150.44,332.27 153.97,318.04" fill="#f4bfaa"/>
<polygon points="155.13,317.54 151.74,330.03 150.57,328.99 150.95,336.76 155.21,330.25 153.67,330.56 157.07,318.06" fill="#f39b83"/>
<polygon points="158.25,317.50 155.13,327.28 154.01,326.19 154.05,333.96 158.58,327.64 157.04,327.88 160.15,318.10" fill="#e47663"/>
<polygon points="161.38,317.42 158.78,323.72 157.75,322.54 157.15,330.29 162.19,324.37 160.63,324.48 163.22,318.18" fill="#d1554a"/>
<polygon points="164.55,317.27 162.99,319.75 162.18,318.41 160.25,325.95 166.23,320.97 164.68,320.82 166.25,318.33" fill="#c03c3c"/>
<polygon points="168.05,317.10 167.56,317.42 167.41,316.13 163.35,321.16 169.59,319.47 168.47,318.81 168.95,318.50" fill="#b52834"/>
<polygon points="171.82,317.10 171.33,316.95 172.12,316.13 166.45,316.19 171.08,319.47 170.90,318.34 171.38,318.50" fill="#b52834"/>
<polygon points="175.48,317.18 174.50,315.94 176.03,315.62 169.55,311.31 172.27,318.60 172.93,317.18 173.92,318.42" fill="#be3a3a"/>
<polygon points="178.71,317.38 176.39,312.43 177.96,312.47 172.65,306.78 173.61,314.50 174.58,313.28 176.89,318.22" fill="#d05349"/>
<polygon points="181.85,317.47 178.88,308.86 180.43,309.06 175.75,302.85 175.89,310.63 176.99,309.51 179.95,318.13" fill="#e47461"/>
<polygon points="184.96,317.53 181.65,305.89 183.19,306.18 178.85,299.72 178.57,307.49 179.73,306.44 183.04,318.07" fill="#f29a82"/>
<polygon points="188.07,317.55 184.57,303.82 186.10,304.15 181.95,297.57 181.45,305.33 182.64,304.31 186.13,318.05" fill="#f4bfaa"/>
<polygon points="191.17,317.56 187.60,302.79 189.12,303.14 185.05,296.51 184.46,304.27 185.65,303.26 189.23,318.04" fill="#e4d8d3"/>
<polygon points="194.27,317.56 190.71,302.88 192.23,303.23 188.15,296.61 187.57,304.36 188.76,303.35 192.33,318.04" fill="#c1d1e4"/>
<polygon points="197.37,317.55 193.89,304.08 195.42,304.41 191.25,297.84 190.78,305.61 191.96,304.58 195.43,318.05" fill="#9bb9e5"/>
<polygon points="200.46,317.52 197.19,306.31 198.73,306.59 194.35,300.16 194.12,307.94 195.27,306.87 198.54,318.08" fill="#799ddb"/>
<polygon points="203.54,317.46 200.65,309.40 202.21,309.59 197.45,303.43 197.69,311.21 198.77,310.08 201.66,318.14" fill="#5f82cc"/>
<polygon points="206.59,317.35 204.44,313.03 206.00,313.03 200.55,307.48 201.71,315.17 202.65,313.92 204.81,318.25" fill="#4d6dbc"/>
<polygon points="209.54,317.13 208.88,316.39 210.39,315.98 203.65,312.08 206.82,319.19 207.39,317.73 208.06,318.47" fill="#4460b1"/>
<polygon points="212.01,317.10 211.52,317.03 212.16,316.13 206.75,317.00 211.64,319.47 211.30,318.42 211.79,318.50" fill="#415dad"/>
<polygon points="214.44,317.10 213.95,317.50 213.65,316.13 209.85,321.95 216.35,319.47 215.07,318.89 215.56,318.50" fill="#4460b1"/>
<polygon points="217.23,317.30 215.45,320.39 214.59,319.08 212.95,326.69 218.74,321.49 217.18,321.39 218.97,318.30" fill="#4d6dbc"/>
<polygon points="220.27,317.44 217.57,324.33 216.52,323.17 216.05,330.94 220.99,324.92 219.43,325.06 222.13,318.16" fill="#5f82cc"/>
<polygon points="223.34,317.51 220.17,327.78 219.04,326.70 219.15,334.48 223.63,328.12 222.08,328.37 225.26,318.09" fill="#799ddb"/>
<polygon points="226.43,317.54 223.01,330.39 221.84,329.35 222.25,337.12 226.48,330.59 224.94,330.90 228.37,318.06" fill="#9bb9e5"/>
<polygon points="229.53,317.56 225.98,331.97 224.79,330.96 225.35,338.72 229.45,332.11 227.92,332.45 231.47,318.04" fill="#c1d1e4"/>
<polygon points="232.63,317.57 229.05,332.44 227.85,331.43 228.45,339.18 232.52,332.55 230.99,332.90 234.57,318.03" fill="#e4d8d3"/>
<polygon points="235.73,317.56 232.20,331.75 231.01,330.73 231.55,338.49 235.67,331.89 234.14,332.23 237.67,318.04" fill="#f4bfaa"/>
<polygon points="238.84,317.54 235.45,329.96 234.28,328.92 234.65,336.69 238.91,330.18 237.38,330.49 240.76,318.06" fill="#f29a82"/>
<polygon points="241.95,317.49 238.84,327.17 237.73,326.08 237.75,333.86 242.30,327.55 240.75,327.78 243.85,318.11" fill="#e47461"/>
<polygon points="245.08,317.42 242.50,323.59 241.48,322.41 240.85,330.16 245.91,324.25 244.35,324.36 246.92,318.18" fill="#d05349"/>
<polygon points="248.26,317.26 246.74,319.62 245.94,318.28 243.95,325.80 249.97,320.88 248.42,320.71 249.94,318.34" fill="#be3a3a"/>
<polygon points="251.77,317.10 251.28,317.41 251.16,316.13 247.05,321.00 253.24,319.47 252.15,318.80 252.63,318.50" fill="#b52834"/>
<polygon points="255.54,317.10 255.05,316.94 255.87,316.13 250.15,316.03 254.73,319.47 254.57,318.33 255.06,318.50" fill="#b52834"/>
<polygon points="259.19,317.19 258.15,315.84 259.68,315.54 253.25,311.16 255.89,318.48 256.57,317.07 257.61,318.41" fill="#c03c3c"/>
<polygon points="262.41,317.38 260.07,312.31 261.63,312.36 256.35,306.64 257.27,314.37 258.25,313.15 260.59,318.22" fill="#d1554a"/>
<polygon points="265.55,317.48 262.56,308.75 264.12,308.96 259.45,302.73 259.57,310.51 260.67,309.40 263.65,318.12" fill="#e47663"/>
<polygon points="268.66,317.53 265.34,305.81 266.88,306.10 262.55,299.63 262.26,307.41 263.42,306.35 266.74,318.07" fill="#f39b83"/>
<polygon points="271.77,317.55 268.27,303.77 269.80,304.10 265.65,297.52 265.15,305.28 266.33,304.26 269.83,318.05" fill="#f4bfaa"/>
<polygon points="274.87,317.57 271.30,302.78 272.82,303.13 268.75,296.50 268.16,304.25 269.35,303.25 272.93,318.03" fill="#e3d9d4"/>
<polygon points="277.97,317.56 274.41,302.90 275.93,303.25 271.85,296.63 271.27,304.39 272.46,303.38 276.03,318.04" fill="#c0d1e5"/>
<rect x="298.2" y="275.0" width="5.699999999999989" height="96.5" fill="url(#cw)" stroke="#231f20" stroke-width="0.5"/>
<line x1="303.9" y1="275.00" x2="307.9" y2="275.00" stroke="#231f20" stroke-width="0.7"/>
<line x1="303.9" y1="287.06" x2="305.9" y2="287.06" stroke="#231f20" stroke-width="0.7"/>
<line x1="303.9" y1="299.12" x2="307.9" y2="299.12" stroke="#231f20" stroke-width="0.7"/>
<line x1="303.9" y1="311.19" x2="305.9" y2="311.19" stroke="#231f20" stroke-width="0.7"/>
<line x1="303.9" y1="323.25" x2="307.9" y2="323.25" stroke="#231f20" stroke-width="0.7"/>
<line x1="303.9" y1="335.31" x2="305.9" y2="335.31" stroke="#231f20" stroke-width="0.7"/>
<line x1="303.9" y1="347.38" x2="307.9" y2="347.38" stroke="#231f20" stroke-width="0.7"/>
<line x1="303.9" y1="359.44" x2="305.9" y2="359.44" stroke="#231f20" stroke-width="0.7"/>
<line x1="303.9" y1="371.50" x2="307.9" y2="371.50" stroke="#231f20" stroke-width="0.7"/>
<text x="311.6" y="279.30" font-size="10.45" text-anchor="start" font-weight="normal" font-style="normal" >1.00</text>
<text x="311.6" y="303.43" font-size="10.45" text-anchor="start" font-weight="normal" font-style="normal" >0.50</text>
<text x="311.6" y="327.55" font-size="10.45" text-anchor="start" font-weight="normal" font-style="normal" >0.00</text>
<text x="311.6" y="351.68" font-size="10.45" text-anchor="start" font-weight="normal" font-style="normal" >−0.50</text>
<text x="311.6" y="375.80" font-size="10.45" text-anchor="start" font-weight="normal" font-style="normal" >−1.00</text>
<text x="339.6" y="327.15" font-size="11.4" font-style="italic">m<tspan font-size="8.4" dy="2.0">y</tspan></text>
<line x1="233" y1="347.1" x2="71.3" y2="347.1" stroke="#231f20" stroke-width="1.45" marker-end="url(#ah)"/>
<text x="78" y="369" font-size="12.9"><tspan font-style="italic">j</tspan> (&lt; <tspan font-style="italic">j</tspan><tspan font-size="9" dy="3.3">c</tspan><tspan dy="-3.3">)</tspan></text>
<text x="400.8" y="11" font-size="12.3" text-anchor="start" font-weight="bold" font-style="normal" >d</text>
<rect x="446.2" y="22.6" width="208.7" height="133.9" fill="none" stroke="#231f20" stroke-width="0.6"/>
<path d="M454.30,156.5 v-4.0 M462.33,156.5 v-2.4 M470.35,156.5 v-2.4 M478.38,156.5 v-2.4 M486.40,156.5 v-2.4 M494.43,156.5 v-4.0 M502.46,156.5 v-2.4 M510.48,156.5 v-2.4 M518.51,156.5 v-2.4 M526.53,156.5 v-2.4 M534.56,156.5 v-4.0 M542.59,156.5 v-2.4 M550.61,156.5 v-2.4 M558.64,156.5 v-2.4 M566.66,156.5 v-2.4 M574.69,156.5 v-4.0 M582.72,156.5 v-2.4 M590.74,156.5 v-2.4 M598.77,156.5 v-2.4 M606.79,156.5 v-2.4 M614.82,156.5 v-4.0 M622.85,156.5 v-2.4 M630.87,156.5 v-2.4 M638.90,156.5 v-2.4 M646.92,156.5 v-2.4 M446.2,147.57 h2.6 M446.2,138.65 h2.6 M446.2,129.72 h2.6 M446.2,120.79 h2.6 M446.2,111.87 h4.0 M446.2,102.94 h2.6 M446.2,94.01 h2.6 M446.2,85.09 h2.6 M446.2,76.16 h2.6 M446.2,67.23 h4.0 M446.2,58.31 h2.6 M446.2,49.38 h2.6 M446.2,40.45 h2.6 M446.2,31.53 h2.6 M654.9,141.62 h-2.6 M654.9,126.75 h-2.6 M654.9,111.88 h-2.6 M654.9,97.00 h-4.0 M654.9,82.12 h-2.6 M654.9,67.25 h-2.6 M654.9,52.38 h-2.6 M654.9,37.50 h-4.0" stroke="#231f20" stroke-width="0.7" fill="none"/>
<text x="454.30" y="171.70" font-size="10.4" text-anchor="middle" font-weight="normal" font-style="normal" >0</text>
<text x="494.43" y="171.70" font-size="10.4" text-anchor="middle" font-weight="normal" font-style="normal" >1</text>
<text x="534.56" y="171.70" font-size="10.4" text-anchor="middle" font-weight="normal" font-style="normal" >2</text>
<text x="574.69" y="171.70" font-size="10.4" text-anchor="middle" font-weight="normal" font-style="normal" >3</text>
<text x="614.82" y="171.70" font-size="10.4" text-anchor="middle" font-weight="normal" font-style="normal" >4</text>
<text x="656.75" y="171.70" font-size="10.4" text-anchor="middle" font-weight="normal" font-style="normal" >5</text>
<text x="552.2" y="186.30" font-size="11.9" text-anchor="middle" font-weight="normal" font-style="normal" >Time (ns)</text>
<text x="440.3" y="160.00" font-size="10.4" text-anchor="end" font-weight="normal" font-style="normal" >0</text>
<text x="440.3" y="115.37" font-size="10.4" text-anchor="end" font-weight="normal" font-style="normal" >0.1</text>
<text x="440.3" y="70.73" font-size="10.4" text-anchor="end" font-weight="normal" font-style="normal" >0.2</text>
<text x="440.3" y="26.10" font-size="10.4" text-anchor="end" font-weight="normal" font-style="normal" >0.3</text>
<text x="659.3" y="160.00" font-size="10.4" text-anchor="start" font-weight="normal" font-style="normal" >0</text>
<text x="659.3" y="100.50" font-size="10.4" text-anchor="start" font-weight="normal" font-style="normal" >1</text>
<text x="659.3" y="41.00" font-size="10.4" text-anchor="start" font-weight="normal" font-style="normal" >2</text>
<text transform="translate(680.5,91.35) rotate(-90)" font-size="12.1" text-anchor="middle">Applied <tspan font-style="italic">j</tspan> (10<tspan font-size="8" dy="-4.2">12</tspan><tspan dy="4.2"> A m</tspan><tspan font-size="8" dy="-4.2">−2</tspan><tspan dy="4.2">)</tspan></text>
<text transform="translate(415.3,89) rotate(-90)" font-size="11.9" text-anchor="middle"><tspan font-style="italic">m</tspan><tspan font-size="8.4" dy="3.0">x</tspan></text>
<path d="M446.2,156.5 L454.3,156.5 L454.3,37.5 L654.9,37.5" fill="none" stroke="#262223" stroke-width="1.4" stroke-linejoin="miter"/>
<path d="M446.2,156.5 L454.30,156.5 L454.30,156.50 L454.81,149.10 L455.31,142.23 L455.82,135.84 L456.32,129.90 L456.83,124.38 L457.34,119.25 L457.84,114.48 L458.35,110.05 L458.85,105.94 L459.36,102.11 L459.86,98.56 L460.37,95.25 L460.88,92.18 L461.38,89.33 L461.89,86.68 L462.39,84.21 L462.90,81.92 L463.41,79.79 L463.91,77.82 L464.42,75.98 L464.92,74.27 L465.43,72.68 L465.93,71.21 L466.44,69.83 L466.95,68.56 L467.45,67.38 L467.96,66.27 L468.46,65.25 L468.97,64.30 L469.48,63.42 L469.98,62.60 L470.49,61.83 L470.99,61.12 L471.50,60.47 L472.00,59.85 L472.51,59.28 L473.02,58.76 L473.52,58.26 L474.03,57.81 L474.53,57.38 L475.04,56.99 L475.55,56.62 L476.05,56.28 L476.56,55.96 L477.06,55.67 L477.57,55.40 L478.07,55.14 L478.58,54.91 L479.09,54.69 L479.59,54.48 L480.10,54.29 L480.60,54.12 L481.11,53.95 L481.62,53.80 L482.12,53.66 L482.63,53.53 L483.13,53.41 L483.64,53.29 L484.14,53.19 L484.65,53.09 L485.16,53.00 L485.66,52.91 L486.17,52.83 L486.67,52.76 L487.18,52.69 L487.69,52.63 L488.19,52.57 L488.70,52.52 L489.20,52.47 L489.71,52.42 L490.21,52.38 L490.72,52.34 L491.23,52.30 L491.73,52.26 L492.24,52.23 L492.74,52.20 L493.25,52.17 L493.76,52.14 L494.26,52.12 L494.77,52.10 L495.27,52.08 L495.78,52.06 L496.28,52.04 L496.79,52.02 L497.30,52.01 L497.80,51.99 L498.31,51.98 L498.81,51.97 L499.32,51.95 L499.83,51.94 L500.33,51.93 L500.84,51.92 L501.34,51.91 L501.85,51.91 L502.35,51.90 L502.86,51.89 L503.37,51.89 L503.87,51.88 L504.38,51.87 L504.88,51.87 L505.39,51.86 L505.90,51.86 L506.40,51.86 L506.91,51.85 L507.41,51.85 L507.92,51.84 L508.42,51.84 L508.93,51.84 L509.44,51.84 L509.94,51.83 L510.45,51.83 L510.95,51.83 L511.46,51.83 L511.97,51.82 L512.47,51.82 L512.98,51.82 L513.48,51.82 L513.99,51.82 L514.50,51.82 L521.89,51.81 L529.28,51.80 L536.67,51.80 L544.06,51.80 L551.46,51.80 L558.85,51.80 L566.24,51.80 L573.63,51.80 L581.03,51.80 L588.42,51.80 L595.81,51.80 L603.20,51.80 L610.60,51.80 L617.99,51.80 L625.38,51.80 L632.77,51.80 L640.17,51.80 L647.56,51.80 L654.95,51.80" fill="none" stroke="#ed1c24" stroke-width="2.1" stroke-linejoin="round"/>
<path d="M633.6,34.10 L629.9,29.50 L650,29.50" fill="none" stroke="#1a1a1a" stroke-width="0.8"/>
<path d="M652.2,29.50 l-5.4,-2.3 l1.3,2.3 l-1.3,2.3 z" fill="#1a1a1a"/>
<path d="M450,47.40 L470,47.40 L461.3,53.30 L472.6,53.30" fill="none" stroke="#ed1c24" stroke-width="1.0"/>
<path d="M446.7,47.40 l5.6,-2.4 l-1.3,2.4 l1.3,2.4 z" fill="#ed1c24"/>
<text x="400.8" y="203.8" font-size="12.3" text-anchor="start" font-weight="bold" font-style="normal" >e</text>
<rect x="446.2" y="215.6" width="208.7" height="133.79999999999998" fill="none" stroke="#231f20" stroke-width="0.6"/>
<path d="M454.30,349.4 v-4.0 M462.33,349.4 v-2.4 M470.35,349.4 v-2.4 M478.38,349.4 v-2.4 M486.40,349.4 v-2.4 M494.43,349.4 v-4.0 M502.46,349.4 v-2.4 M510.48,349.4 v-2.4 M518.51,349.4 v-2.4 M526.53,349.4 v-2.4 M534.56,349.4 v-4.0 M542.59,349.4 v-2.4 M550.61,349.4 v-2.4 M558.64,349.4 v-2.4 M566.66,349.4 v-2.4 M574.69,349.4 v-4.0 M582.72,349.4 v-2.4 M590.74,349.4 v-2.4 M598.77,349.4 v-2.4 M606.79,349.4 v-2.4 M614.82,349.4 v-4.0 M622.85,349.4 v-2.4 M630.87,349.4 v-2.4 M638.90,349.4 v-2.4 M646.92,349.4 v-2.4 M446.2,336.02 h2.6 M446.2,322.64 h2.6 M446.2,309.26 h2.6 M446.2,295.88 h2.6 M446.2,282.50 h4.0 M446.2,269.12 h2.6 M446.2,255.74 h2.6 M446.2,242.36 h2.6 M446.2,228.98 h2.6 M654.9,334.46 h-2.6 M654.9,319.52 h-2.6 M654.9,304.59 h-2.6 M654.9,289.65 h-4.0 M654.9,274.71 h-2.6 M654.9,259.77 h-2.6 M654.9,244.84 h-2.6 M654.9,229.90 h-4.0" stroke="#231f20" stroke-width="0.7" fill="none"/>
<text x="454.30" y="364.60" font-size="10.4" text-anchor="middle" font-weight="normal" font-style="normal" >0</text>
<text x="494.43" y="364.60" font-size="10.4" text-anchor="middle" font-weight="normal" font-style="normal" >1</text>
<text x="534.56" y="364.60" font-size="10.4" text-anchor="middle" font-weight="normal" font-style="normal" >2</text>
<text x="574.69" y="364.60" font-size="10.4" text-anchor="middle" font-weight="normal" font-style="normal" >3</text>
<text x="614.82" y="364.60" font-size="10.4" text-anchor="middle" font-weight="normal" font-style="normal" >4</text>
<text x="656.75" y="364.60" font-size="10.4" text-anchor="middle" font-weight="normal" font-style="normal" >5</text>
<text x="552.2" y="379.20" font-size="11.9" text-anchor="middle" font-weight="normal" font-style="normal" >Time (ns)</text>
<text x="440.3" y="352.90" font-size="10.4" text-anchor="end" font-weight="normal" font-style="normal" >0</text>
<text x="440.3" y="286.00" font-size="10.4" text-anchor="end" font-weight="normal" font-style="normal" >−50</text>
<text x="440.3" y="219.10" font-size="10.4" text-anchor="end" font-weight="normal" font-style="normal" >−100</text>
<text x="659.3" y="352.90" font-size="10.4" text-anchor="start" font-weight="normal" font-style="normal" >0</text>
<text x="659.3" y="293.15" font-size="10.4" text-anchor="start" font-weight="normal" font-style="normal" >1</text>
<text x="659.3" y="233.40" font-size="10.4" text-anchor="start" font-weight="normal" font-style="normal" >2</text>
<text transform="translate(680.5,284.30) rotate(-90)" font-size="12.1" text-anchor="middle">Applied <tspan font-style="italic">j</tspan> (10<tspan font-size="8" dy="-4.2">12</tspan><tspan dy="4.2"> A m</tspan><tspan font-size="8" dy="-4.2">−2</tspan><tspan dy="4.2">)</tspan></text>
<text transform="translate(415.7,279.7) rotate(-90)" font-size="12.2" text-anchor="middle">Displacement (nm)</text>
<path d="M446.2,349.4 L454.3,349.4 L454.3,229.9 L654.9,229.9" fill="none" stroke="#262223" stroke-width="1.7" stroke-linejoin="miter"/>
<path d="M446.2,349.4 L454.30,349.4 L454.30,349.40 L454.81,342.05 L455.31,335.22 L455.82,328.87 L456.32,322.98 L456.83,317.49 L457.34,312.40 L457.84,307.66 L458.35,303.26 L458.85,299.18 L459.36,295.38 L459.86,291.84 L460.37,288.56 L460.88,285.51 L461.38,282.68 L461.89,280.04 L462.39,277.60 L462.90,275.32 L463.41,273.21 L463.91,271.24 L464.42,269.42 L464.92,267.72 L465.43,266.14 L465.93,264.68 L466.44,263.31 L466.95,262.05 L467.45,260.87 L467.96,259.78 L468.46,258.76 L468.97,257.82 L469.48,256.94 L469.98,256.12 L470.49,255.37 L470.99,254.66 L471.50,254.01 L472.00,253.40 L472.51,252.83 L473.02,252.31 L473.52,251.82 L474.03,251.37 L474.53,250.95 L475.04,250.55 L475.55,250.19 L476.05,249.85 L476.56,249.54 L477.06,249.24 L477.57,248.97 L478.07,248.72 L478.58,248.49 L479.09,248.27 L479.59,248.06 L480.10,247.88 L480.60,247.70 L481.11,247.54 L481.62,247.39 L482.12,247.25 L482.63,247.12 L483.13,247.00 L483.64,246.88 L484.14,246.78 L484.65,246.68 L485.16,246.59 L485.66,246.51 L486.17,246.43 L486.67,246.36 L487.18,246.29 L487.69,246.22 L488.19,246.17 L488.70,246.11 L489.20,246.06 L489.71,246.02 L490.21,245.97 L490.72,245.93 L491.23,245.89 L491.73,245.86 L492.24,245.83 L492.74,245.80 L493.25,245.77 L493.76,245.74 L494.26,245.72 L494.77,245.70 L495.27,245.67 L495.78,245.66 L496.28,245.64 L496.79,245.62 L497.30,245.60 L497.80,245.59 L498.31,245.58 L498.81,245.56 L499.32,245.55 L499.83,245.54 L500.33,245.53 L500.84,245.52 L501.34,245.51 L501.85,245.51 L502.35,245.50 L502.86,245.49 L503.37,245.49 L503.87,245.48 L504.38,245.47 L504.88,245.47 L505.39,245.46 L505.90,245.46 L506.40,245.45 L506.91,245.45 L507.41,245.45 L507.92,245.44 L508.42,245.44 L508.93,245.44 L509.44,245.44 L509.94,245.43 L510.45,245.43 L510.95,245.43 L511.46,245.43 L511.97,245.42 L512.47,245.42 L512.98,245.42 L513.48,245.42 L513.99,245.42 L514.50,245.42 L521.89,245.41 L529.28,245.40 L536.67,245.40 L544.06,245.40 L551.46,245.40 L558.85,245.40 L566.24,245.40 L573.63,245.40 L581.03,245.40 L588.42,245.40 L595.81,245.40 L603.20,245.40 L610.60,245.40 L617.99,245.40 L625.38,245.40 L632.77,245.40 L640.17,245.40 L647.56,245.40 L654.95,245.40" fill="none" stroke="#1f4ea1" stroke-width="2.1" stroke-linejoin="round"/>
<path d="M633.6,227.40 L629.9,222.80 L650,222.80" fill="none" stroke="#1a1a1a" stroke-width="0.8"/>
<path d="M652.2,222.80 l-5.4,-2.3 l1.3,2.3 l-1.3,2.3 z" fill="#1a1a1a"/>
<path d="M450,240.00 L470,240.00 L461.3,245.90 L472.6,245.90" fill="none" stroke="#7da7e0" stroke-width="1.0"/>
<path d="M446.7,240.00 l5.6,-2.4 l-1.3,2.4 l1.3,2.4 z" fill="#2a5caa"/>
</svg>
</body></html>
